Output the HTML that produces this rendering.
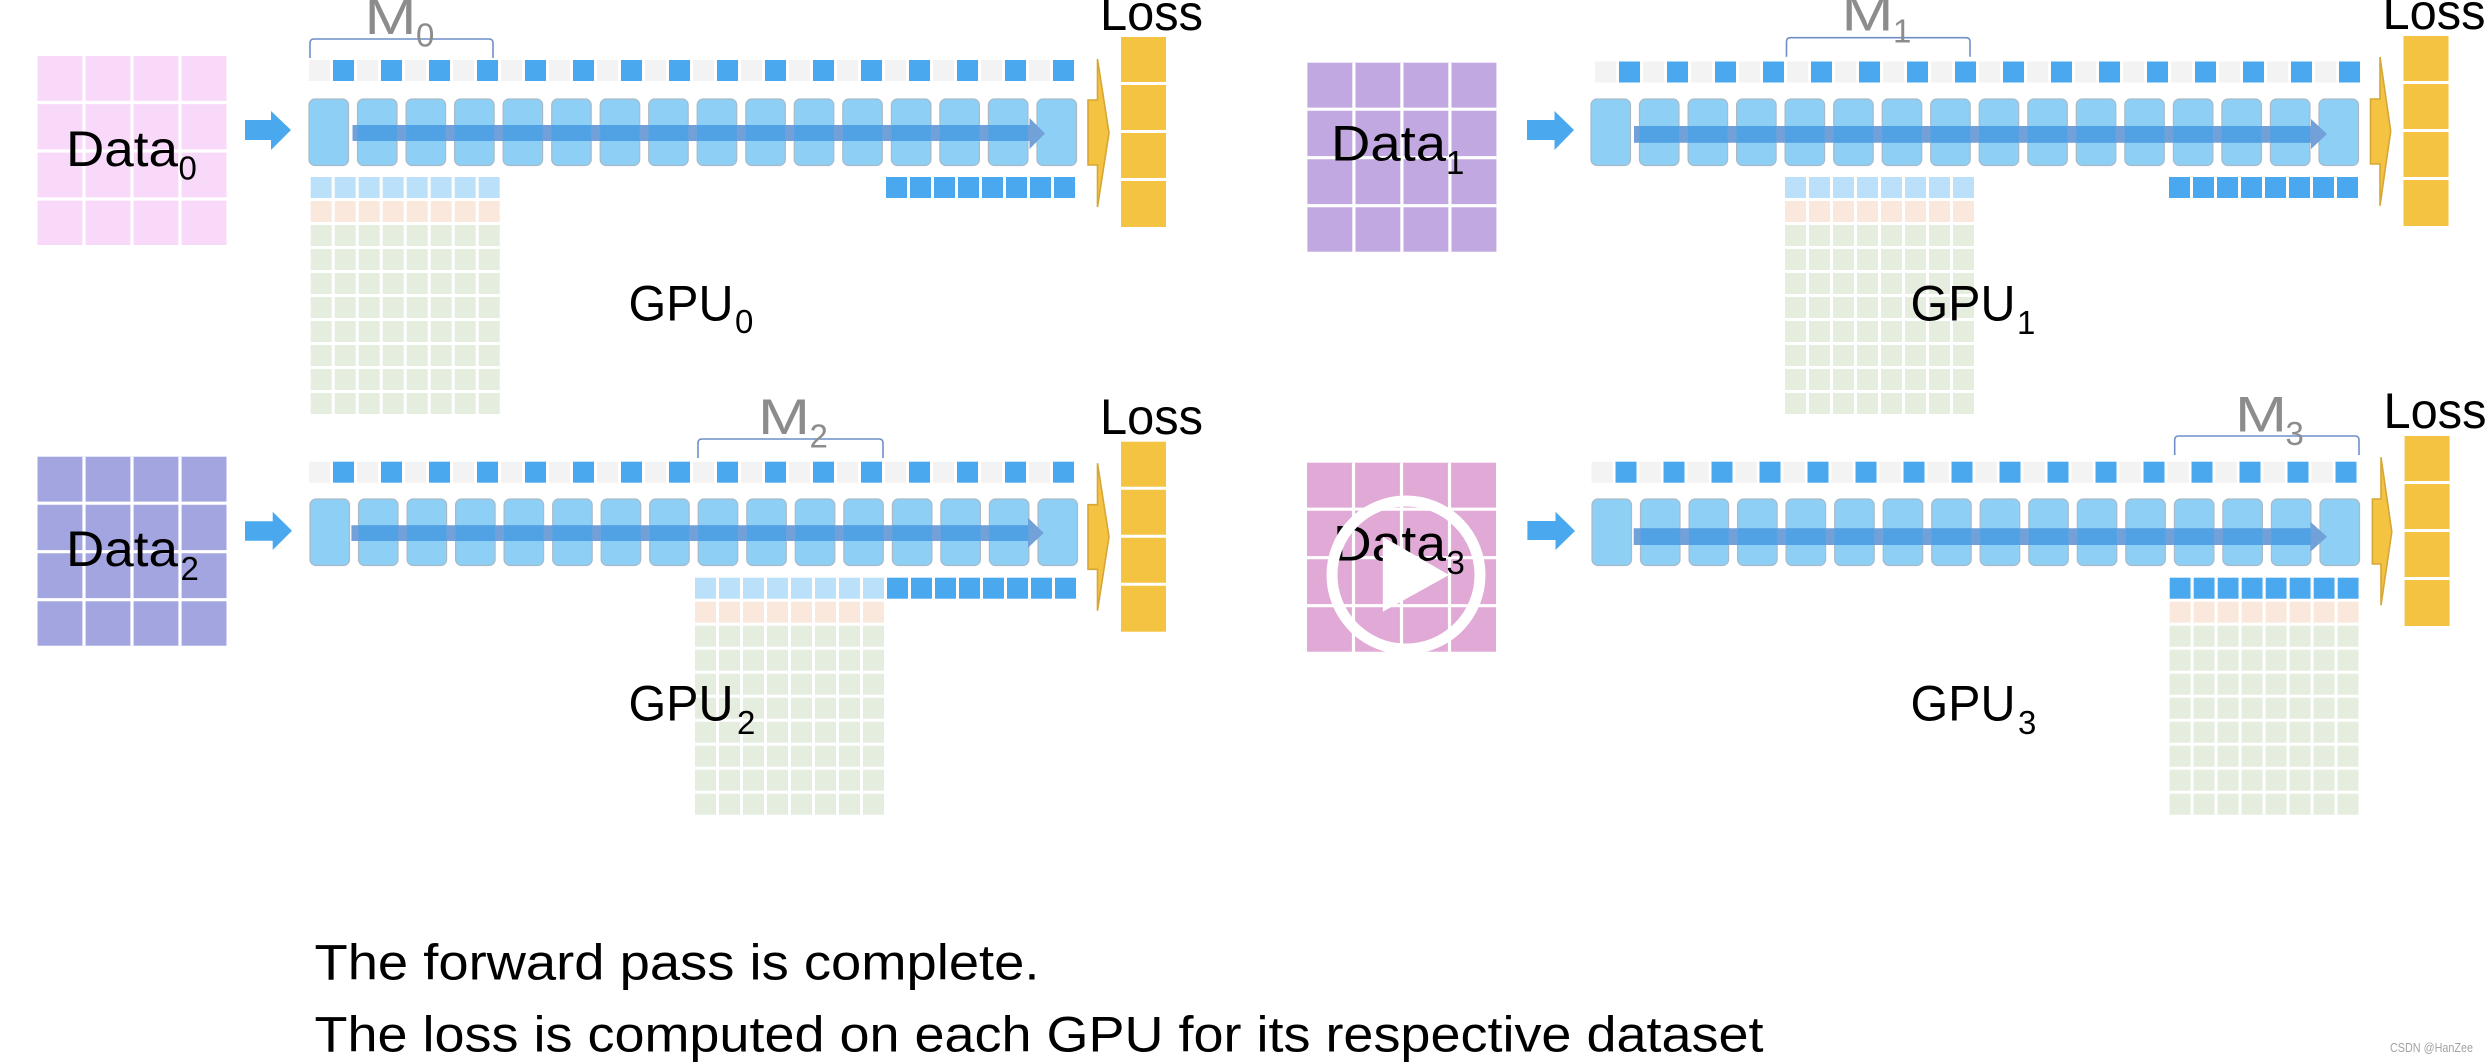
<!DOCTYPE html>
<html><head><meta charset="utf-8"><title>Forward pass</title>
<style>
html,body{margin:0;padding:0;background:#fff;width:2488px;height:1062px;overflow:hidden}
svg{display:block}
text{font-family:"Liberation Sans",sans-serif}
.t{font-size:50px;fill:#000}
.s{font-size:33px;fill:#000}
.m{font-size:50px;fill:#8c8c8c}
.ms{font-size:33px;fill:#8c8c8c}
.b{fill:none;stroke:#6f8fc9;stroke-width:1.6}
</style></head><body>
<svg xmlns="http://www.w3.org/2000/svg" width="2488" height="1062" viewBox="0 0 2488 1062">
<defs>
<pattern id="topP" width="48" height="21" patternUnits="userSpaceOnUse"><rect width="21" height="21" fill="#f3f3f3"/><rect x="24" width="21" height="21" fill="#4aa8ef"/></pattern>
<pattern id="outP" width="24" height="21" patternUnits="userSpaceOnUse"><rect width="21" height="21" fill="#4aa8ef"/></pattern>
<pattern id="ovP" width="48.53" height="40" patternUnits="userSpaceOnUse"><rect width="39.5" height="40" fill="#50a2e5"/></pattern>
<g id="grid"><path d="M46.5 0V189M94.5 0V189M142.5 0V189M0 46.5H189M0 95H189M0 143H189" stroke="#fff" stroke-width="3.2" fill="none"/></g>
<g id="lossbox"><rect width="45" height="190" fill="#f5c342"/><path d="M0 46.5H45M0 94.5H45M0 142.5H45" stroke="#fff" stroke-width="3" fill="none"/></g>
<g id="mat"><rect y="24" width="189" height="21" fill="#fae8dc"/><rect y="48" width="189" height="189" fill="#e5eddf"/><path d="M22.5 0V237M46.5 0V237M70.5 0V237M94.5 0V237M118.5 0V237M142.5 0V237M166.5 0V237M0 70.5H189M0 94.5H189M0 118.5H189M0 142.5H189M0 166.5H189M0 190.5H189M0 214.5H189" stroke="#fff" stroke-width="3" fill="none"/></g>
<g id="layers" fill="#8dcff5" stroke="#a9bac6" stroke-width="1.2">
<rect x="0" width="39.5" height="66.5" rx="6"/><rect x="48.5" width="39.5" height="66.5" rx="6"/><rect x="97.1" width="39.5" height="66.5" rx="6"/><rect x="145.6" width="39.5" height="66.5" rx="6"/><rect x="194.1" width="39.5" height="66.5" rx="6"/><rect x="242.7" width="39.5" height="66.5" rx="6"/><rect x="291.2" width="39.5" height="66.5" rx="6"/><rect x="339.7" width="39.5" height="66.5" rx="6"/><rect x="388.2" width="39.5" height="66.5" rx="6"/><rect x="436.8" width="39.5" height="66.5" rx="6"/><rect x="485.3" width="39.5" height="66.5" rx="6"/><rect x="533.8" width="39.5" height="66.5" rx="6"/><rect x="582.4" width="39.5" height="66.5" rx="6"/><rect x="630.9" width="39.5" height="66.5" rx="6"/><rect x="679.4" width="39.5" height="66.5" rx="6"/><rect x="728" width="39.5" height="66.5" rx="6"/>
</g>
</defs>
<rect width="2488" height="1062" fill="#fff"/>

<!-- Panel 0 -->
<rect x="37.5" y="56" width="189" height="189" fill="#f8d9f9"/><use href="#grid" x="37.5" y="56"/>
<text class="t" x="66" y="166" textLength="112" lengthAdjust="spacingAndGlyphs">Data</text><text class="s" x="178.5" y="179.5">0</text>
<polygon points="245,120 271,120 271,111 291,130 271,150 271,140 245,140" fill="#4aa8ef"/>
<g transform="translate(309 60)"><rect width="765" height="21" fill="url(#topP)"/></g>
<use href="#layers" x="309" y="99"/>
<polygon points="352.5,125 1029.5,125 1029.5,118 1045,133.5 1029.5,149 1029.5,141 352.5,141" fill="#72a0d8"/>
<g transform="translate(309 125)"><rect x="43.5" width="677" height="16" fill="url(#ovP)"/></g>
<g transform="translate(886 177)"><rect width="189" height="21" fill="url(#outP)"/></g>
<g transform="translate(310.7 177)"><rect width="189" height="21" fill="#bbe0fa"/><use href="#mat"/></g>
<polygon points="1088,100 1097.5,100 1097.5,59 1109,133 1097.5,207 1097.5,165 1088,165" fill="#f5c342" stroke="#d6a637" stroke-width="1.6"/>
<use href="#lossbox" x="1121" y="37"/>
<text class="t" x="1100" y="30" textLength="103" lengthAdjust="spacingAndGlyphs">Loss</text>
<path class="b" d="M310 58V43Q310 39 314 39H489Q493 39 493 43V58"/>
<text class="m" x="364.5" y="34" textLength="52" lengthAdjust="spacingAndGlyphs">M</text><text class="ms" x="416" y="46.5">0</text>
<text class="t" x="628.5" y="320.7" textLength="105" lengthAdjust="spacingAndGlyphs">GPU</text><text class="s" x="735" y="333">0</text>

<!-- Panel 1 -->
<rect x="1307.4" y="62.7" width="189" height="189" fill="#c2a8e0"/><use href="#grid" x="1307.4" y="62.7"/>
<text class="t" x="1331" y="160.7" textLength="115" lengthAdjust="spacingAndGlyphs">Data</text><text class="s" x="1446" y="174">1</text>
<polygon points="1527,120 1554.5,120 1554.5,111 1574,130 1554.5,150 1554.5,140 1527,140" fill="#4aa8ef"/>
<g transform="translate(1595 61.5)"><rect width="765" height="21" fill="url(#topP)"/></g>
<use href="#layers" x="1591" y="99"/>
<polygon points="1634,126 2311,126 2311,119 2327,134 2311,149 2311,142.7 1634,142.7" fill="#72a0d8"/>
<g transform="translate(1591 126)"><rect x="43" width="677" height="16.7" fill="url(#ovP)"/></g>
<g transform="translate(2169 177)"><rect width="189" height="21" fill="url(#outP)"/></g>
<g transform="translate(1785 177)"><rect width="189" height="21" fill="#bbe0fa"/><use href="#mat"/></g>
<polygon points="2370.5,99 2380,99 2380,57 2390.7,131 2380,205.7 2380,164 2370.5,164" fill="#f5c342" stroke="#d6a637" stroke-width="1.6"/>
<use href="#lossbox" x="2403.5" y="36"/>
<text class="t" x="2382.5" y="29" textLength="103" lengthAdjust="spacingAndGlyphs">Loss</text>
<path class="b" d="M1786.5 56.7V41.7Q1786.5 37.7 1790.5 37.7H1966Q1970 37.7 1970 41.7V56.7"/>
<text class="m" x="1841.5" y="30.7" textLength="52" lengthAdjust="spacingAndGlyphs">M</text><text class="ms" x="1893" y="42.7">1</text>
<text class="t" x="1910.5" y="320.7" textLength="105" lengthAdjust="spacingAndGlyphs">GPU</text><text class="s" x="2017" y="334">1</text>

<!-- Panel 2 -->
<rect x="37.5" y="456.7" width="189" height="189" fill="#a3a5e1"/><use href="#grid" x="37.5" y="456.7"/>
<text class="t" x="66" y="566" textLength="112" lengthAdjust="spacingAndGlyphs">Data</text><text class="s" x="180.5" y="580">2</text>
<polygon points="245,521.3 272.7,521.3 272.7,511.7 292,530.7 272.7,550 272.7,540.7 245,540.7" fill="#4aa8ef"/>
<g transform="translate(309 461.7)"><rect width="765" height="21" fill="url(#topP)"/></g>
<use href="#layers" x="310" y="499"/>
<polygon points="351.4,525.3 1028,525.3 1028,517.7 1043.7,533 1028,547.7 1028,541 351.4,541" fill="#72a0d8"/>
<g transform="translate(310 525.3)"><rect x="41.4" width="677" height="15.7" fill="url(#ovP)"/></g>
<g transform="translate(887 577.7)"><rect width="189" height="21" fill="url(#outP)"/></g>
<g transform="translate(695 577.7)"><rect width="189" height="21" fill="#bbe0fa"/><use href="#mat"/></g>
<polygon points="1088,504.7 1097.5,504.7 1097.5,463.3 1109,536.7 1097.5,610.7 1097.5,569.3 1088,569.3" fill="#f5c342" stroke="#d6a637" stroke-width="1.6"/>
<use href="#lossbox" x="1121" y="441.7"/>
<text class="t" x="1100" y="434" textLength="103" lengthAdjust="spacingAndGlyphs">Loss</text>
<path class="b" d="M698 458V443Q698 439 702 439H879Q883 439 883 443V458"/>
<text class="m" x="758" y="434" textLength="52" lengthAdjust="spacingAndGlyphs">M</text><text class="ms" x="809.5" y="447.7">2</text>
<text class="t" x="628.5" y="720.7" textLength="105" lengthAdjust="spacingAndGlyphs">GPU</text><text class="s" x="737" y="734">2</text>

<!-- Panel 3 -->
<rect x="1307" y="462.7" width="189" height="189" fill="#e0a9d6"/><use href="#grid" x="1307" y="462.7"/>
<text class="t" x="1333" y="560.7" textLength="113" lengthAdjust="spacingAndGlyphs">Data</text><text class="s" x="1446.5" y="574">3</text>
<polygon points="1527.4,521 1555.5,521 1555.5,511.7 1575,531 1555.5,550 1555.5,540 1527.4,540" fill="#4aa8ef"/>
<g transform="translate(1591.5 461.7)"><rect width="765" height="21" fill="url(#topP)"/></g>
<use href="#layers" x="1592" y="499"/>
<polygon points="1633.7,528.3 2310.4,528.3 2310.4,521.7 2327,536.7 2310.4,551.7 2310.4,545 1633.7,545" fill="#72a0d8"/>
<g transform="translate(1592 528.3)"><rect x="41.7" width="677" height="16.7" fill="url(#ovP)"/></g>
<g transform="translate(2169.6 577.7)"><rect width="189" height="21" fill="url(#outP)"/><use href="#mat"/></g>
<polygon points="2372.4,499 2381,499 2381,457.3 2391.8,531.7 2381,605.3 2381,564 2372.4,564" fill="#f5c342" stroke="#d6a637" stroke-width="1.6"/>
<use href="#lossbox" x="2404.6" y="436"/>
<text class="t" x="2383.5" y="428" textLength="103" lengthAdjust="spacingAndGlyphs">Loss</text>
<path class="b" d="M2174.7 455V440Q2174.7 436 2178.7 436H2355Q2359 436 2359 440V455"/>
<text class="m" x="2235" y="431.7" textLength="52" lengthAdjust="spacingAndGlyphs">M</text><text class="ms" x="2285.5" y="445">3</text>
<text class="t" x="1910.5" y="720.7" textLength="105" lengthAdjust="spacingAndGlyphs">GPU</text><text class="s" x="2018" y="734">3</text>

<!-- Play icon -->
<circle cx="1406" cy="575" r="74" fill="none" stroke="#fff" stroke-width="11"/>
<polygon points="1382.8,536.7 1449,575 1382.8,611.7" fill="#fff"/>

<!-- Caption -->
<text class="t" x="314.5" y="979.3" textLength="725" lengthAdjust="spacingAndGlyphs">The forward pass is complete.</text>
<text class="t" x="314.5" y="1051.3" textLength="1449" lengthAdjust="spacingAndGlyphs">The loss is computed on each GPU for its respective dataset</text>
<text x="2390" y="1052" font-size="12.5" fill="#a3a3a3" textLength="83" lengthAdjust="spacingAndGlyphs">CSDN @HanZee</text>
</svg>
</body></html>
